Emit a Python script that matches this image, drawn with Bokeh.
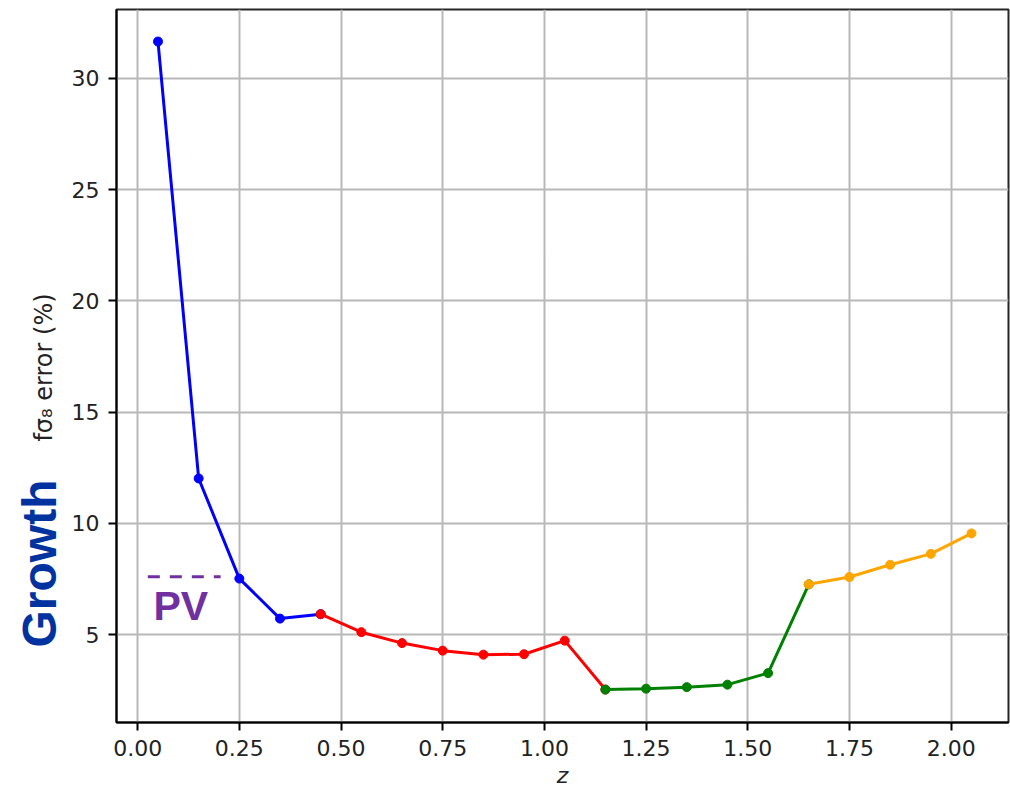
from bokeh.plotting import figure
from bokeh.layouts import row
from bokeh.models import FixedTicker, NumeralTickFormatter, Label, Range1d
from bokeh.embed import file_html
from bokeh.resources import INLINE

# Redshift bins and forecast fσ8 errors (%) per survey segment
z_blue = [0.05, 0.15, 0.25, 0.35, 0.45]
err_blue = [31.66, 12.02, 7.52, 5.72, 5.92]

z_red = [0.45, 0.55, 0.65, 0.75, 0.85, 0.95, 1.05, 1.15]
err_red = [5.92, 5.11, 4.62, 4.28, 4.10, 4.12, 4.73, 2.53]

z_green = [1.15, 1.25, 1.35, 1.45, 1.55, 1.65]
err_green = [2.53, 2.57, 2.64, 2.75, 3.27, 7.26]

z_orange = [1.65, 1.75, 1.85, 1.95, 2.05]
err_orange = [7.26, 7.59, 8.14, 8.63, 9.55]

# Peculiar-velocity reference level
pv_z = [0.025, 0.204]
pv_err = [7.6, 7.6]

x_ticks = [0.0, 0.25, 0.5, 0.75, 1.0, 1.25, 1.5, 1.75, 2.0]
y_ticks = [5, 10, 15, 20, 25, 30]

SIDE_W = 67
TOTAL_H = 796
FRAME_TOP = 9
FRAME_BOTTOM = 722

# Narrow strip on the left holding the vertical texts; its frame is aligned
# with the main frame, so its y range counts pixels up from the page bottom.
side = figure(width=SIDE_W, height=TOTAL_H, output_backend="svg",
              toolbar_location=None, x_range=Range1d(0, SIDE_W),
              y_range=Range1d(TOTAL_H - FRAME_BOTTOM, TOTAL_H - FRAME_TOP),
              x_axis_location=None, y_axis_location=None, min_border=0)
side.grid.visible = False
side.outline_line_color = None
side.background_fill_color = "white"
side.border_fill_color = "white"

side.add_layout(Label(x=39, y=TOTAL_H - 563, text="Growth",
                      text_font="Liberation Sans", text_font_style="bold",
                      text_font_size="48px", text_color="#0033a0",
                      text_align="center", text_baseline="middle",
                      angle=1.5707963))
side.add_layout(Label(x=43, y=TOTAL_H - 367, text="fσ₈ error (%)",
                      text_font="DejaVu Sans", text_font_size="24px",
                      text_color="#222222", text_align="center",
                      text_baseline="middle", angle=1.5707963))

# Main chart
p = figure(width=1010 - SIDE_W, height=TOTAL_H, output_backend="svg",
           toolbar_location=None,
           x_range=Range1d(-0.052, 2.141), y_range=Range1d(1.05, 33.1),
           min_border_left=116 - SIDE_W, min_border_right=2,
           min_border_top=FRAME_TOP, min_border_bottom=TOTAL_H - FRAME_BOTTOM)

p.background_fill_color = "white"
p.border_fill_color = "white"
p.outline_line_color = "black"
p.outline_line_width = 2
p.outline_line_alpha = 0.85

for ax in (p.xaxis[0], p.yaxis[0]):
    ax.axis_line_width = 2
    ax.axis_line_color = "black"
    ax.major_tick_line_width = 2
    ax.major_tick_out = 8
    ax.major_tick_in = 0
    ax.minor_tick_out = 0
    ax.minor_tick_in = 0
    ax.major_label_text_font = "DejaVu Sans"
    ax.major_label_text_font_size = "22px"
    ax.major_label_text_color = "#222222"
    ax.major_label_standoff = 9

xa = p.xaxis[0]
ya = p.yaxis[0]
xa.ticker = FixedTicker(ticks=x_ticks)
xa.formatter = NumeralTickFormatter(format="0.00")
ya.ticker = FixedTicker(ticks=y_ticks)

xa.axis_label = "z"
xa.axis_label_text_font = "DejaVu Sans"
xa.axis_label_text_font_style = "italic"
xa.axis_label_text_font_size = "22px"
xa.axis_label_text_color = "#222222"
xa.axis_label_standoff = 4

p.xgrid.ticker = FixedTicker(ticks=x_ticks)
p.ygrid.ticker = FixedTicker(ticks=y_ticks)
for g in (p.xgrid[0], p.ygrid[0]):
    g.grid_line_color = "#b8b8b8"
    g.grid_line_width = 2

for zs, es, col in ((z_blue, err_blue, "#0000ff"),
                    (z_red, err_red, "#ff0000"),
                    (z_green, err_green, "#008000"),
                    (z_orange, err_orange, "#ffa500")):
    p.line(zs, es, line_color=col, line_width=3)
    p.scatter(zs, es, size=9, fill_color=col, line_color=col)

p.line(pv_z, pv_err, line_color="#7030a0", line_width=3, line_dash="12 10")

p.add_layout(Label(x=0.106, y=6.3, text="PV", text_font="Liberation Sans",
                   text_font_style="bold", text_font_size="41px",
                   text_color="#7030a0", text_align="center",
                   text_baseline="middle"))

layout = row(side, p, spacing=0)

open("out.html", "w").write(file_html(layout, INLINE))
